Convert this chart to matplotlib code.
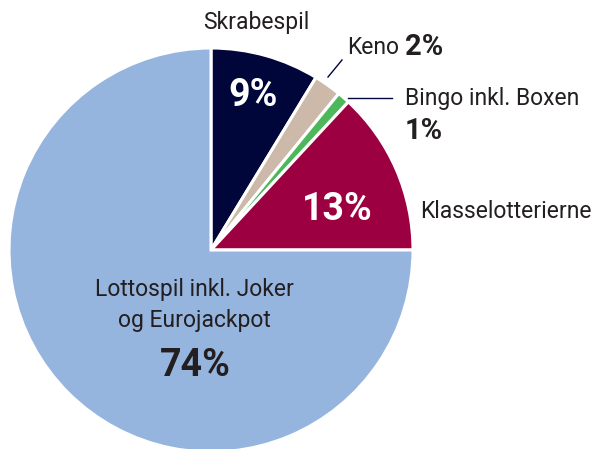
import matplotlib.pyplot as plt

plt.rcParams['font.family'] = ['Roboto', 'DejaVu Sans']

# shares (clockwise from 12 o'clock)
games = ["Skrabespil", "Keno", "Bingo inkl. Boxen", "Klasselotterierne",
         "Lottospil inkl. Joker\nog Eurojackpot"]
shares = [8.7, 2.2, 1.0, 13.1, 75.0]
pct_labels = ["9%", "2%", "1%", "13%", "74%"]
colors = ["#00053a", "#cdb9aa", "#4cb85a", "#9c0041", "#96b5de"]

TXT = "#231f20"
W, H = 598, 449
FS = 16.5
BIG = 27
MID = 21


def py(y):
    # pixel row from top -> data y
    return H - y


fig = plt.figure(figsize=(W / 100, H / 100), dpi=100)
ax = fig.add_axes([0, 0, 1, 1])

ax.pie(shares, colors=colors, startangle=90, counterclock=False,
       center=(211, py(250)), radius=202, frame=False,
       wedgeprops=dict(edgecolor="white", linewidth=2.2))

ax.set_xlim(0, W)
ax.set_ylim(0, H)
ax.set_aspect("equal")
ax.axis("off")

# inside labels
ax.text(253, py(96), pct_labels[0], color="white", fontsize=BIG,
        fontweight="bold", ha="center", va="center")
ax.text(337, py(209), pct_labels[3], color="white", fontsize=BIG,
        fontweight="bold", ha="center", va="center")
ax.text(194, py(305), games[4], color=TXT, fontsize=FS,
        ha="center", va="center", linespacing=1.4)
ax.text(195, py(366), pct_labels[4], color=TXT, fontsize=BIG,
        fontweight="bold", ha="center", va="center")

# outside labels
ax.text(256, py(23), games[0], color=TXT, fontsize=FS,
        ha="center", va="center")
ax.text(347, py(47), games[1], color=TXT, fontsize=FS,
        ha="left", va="center")
ax.text(405, py(47), pct_labels[1], color=TXT, fontsize=MID,
        fontweight="bold", ha="left", va="center")
ax.text(405, py(99), games[2], color=TXT, fontsize=FS,
        ha="left", va="center")
ax.text(405, py(131), pct_labels[2], color=TXT, fontsize=MID,
        fontweight="bold", ha="left", va="center")
ax.text(420, py(211), games[3], color=TXT, fontsize=FS,
        ha="left", va="center")

# leader lines
ax.plot([328, 342], [py(77), py(60)], color="#00053a", lw=1)
ax.plot([348, 392], [py(98), py(98)], color="#00053a", lw=1)

fig.savefig("out.png", dpi=100)
